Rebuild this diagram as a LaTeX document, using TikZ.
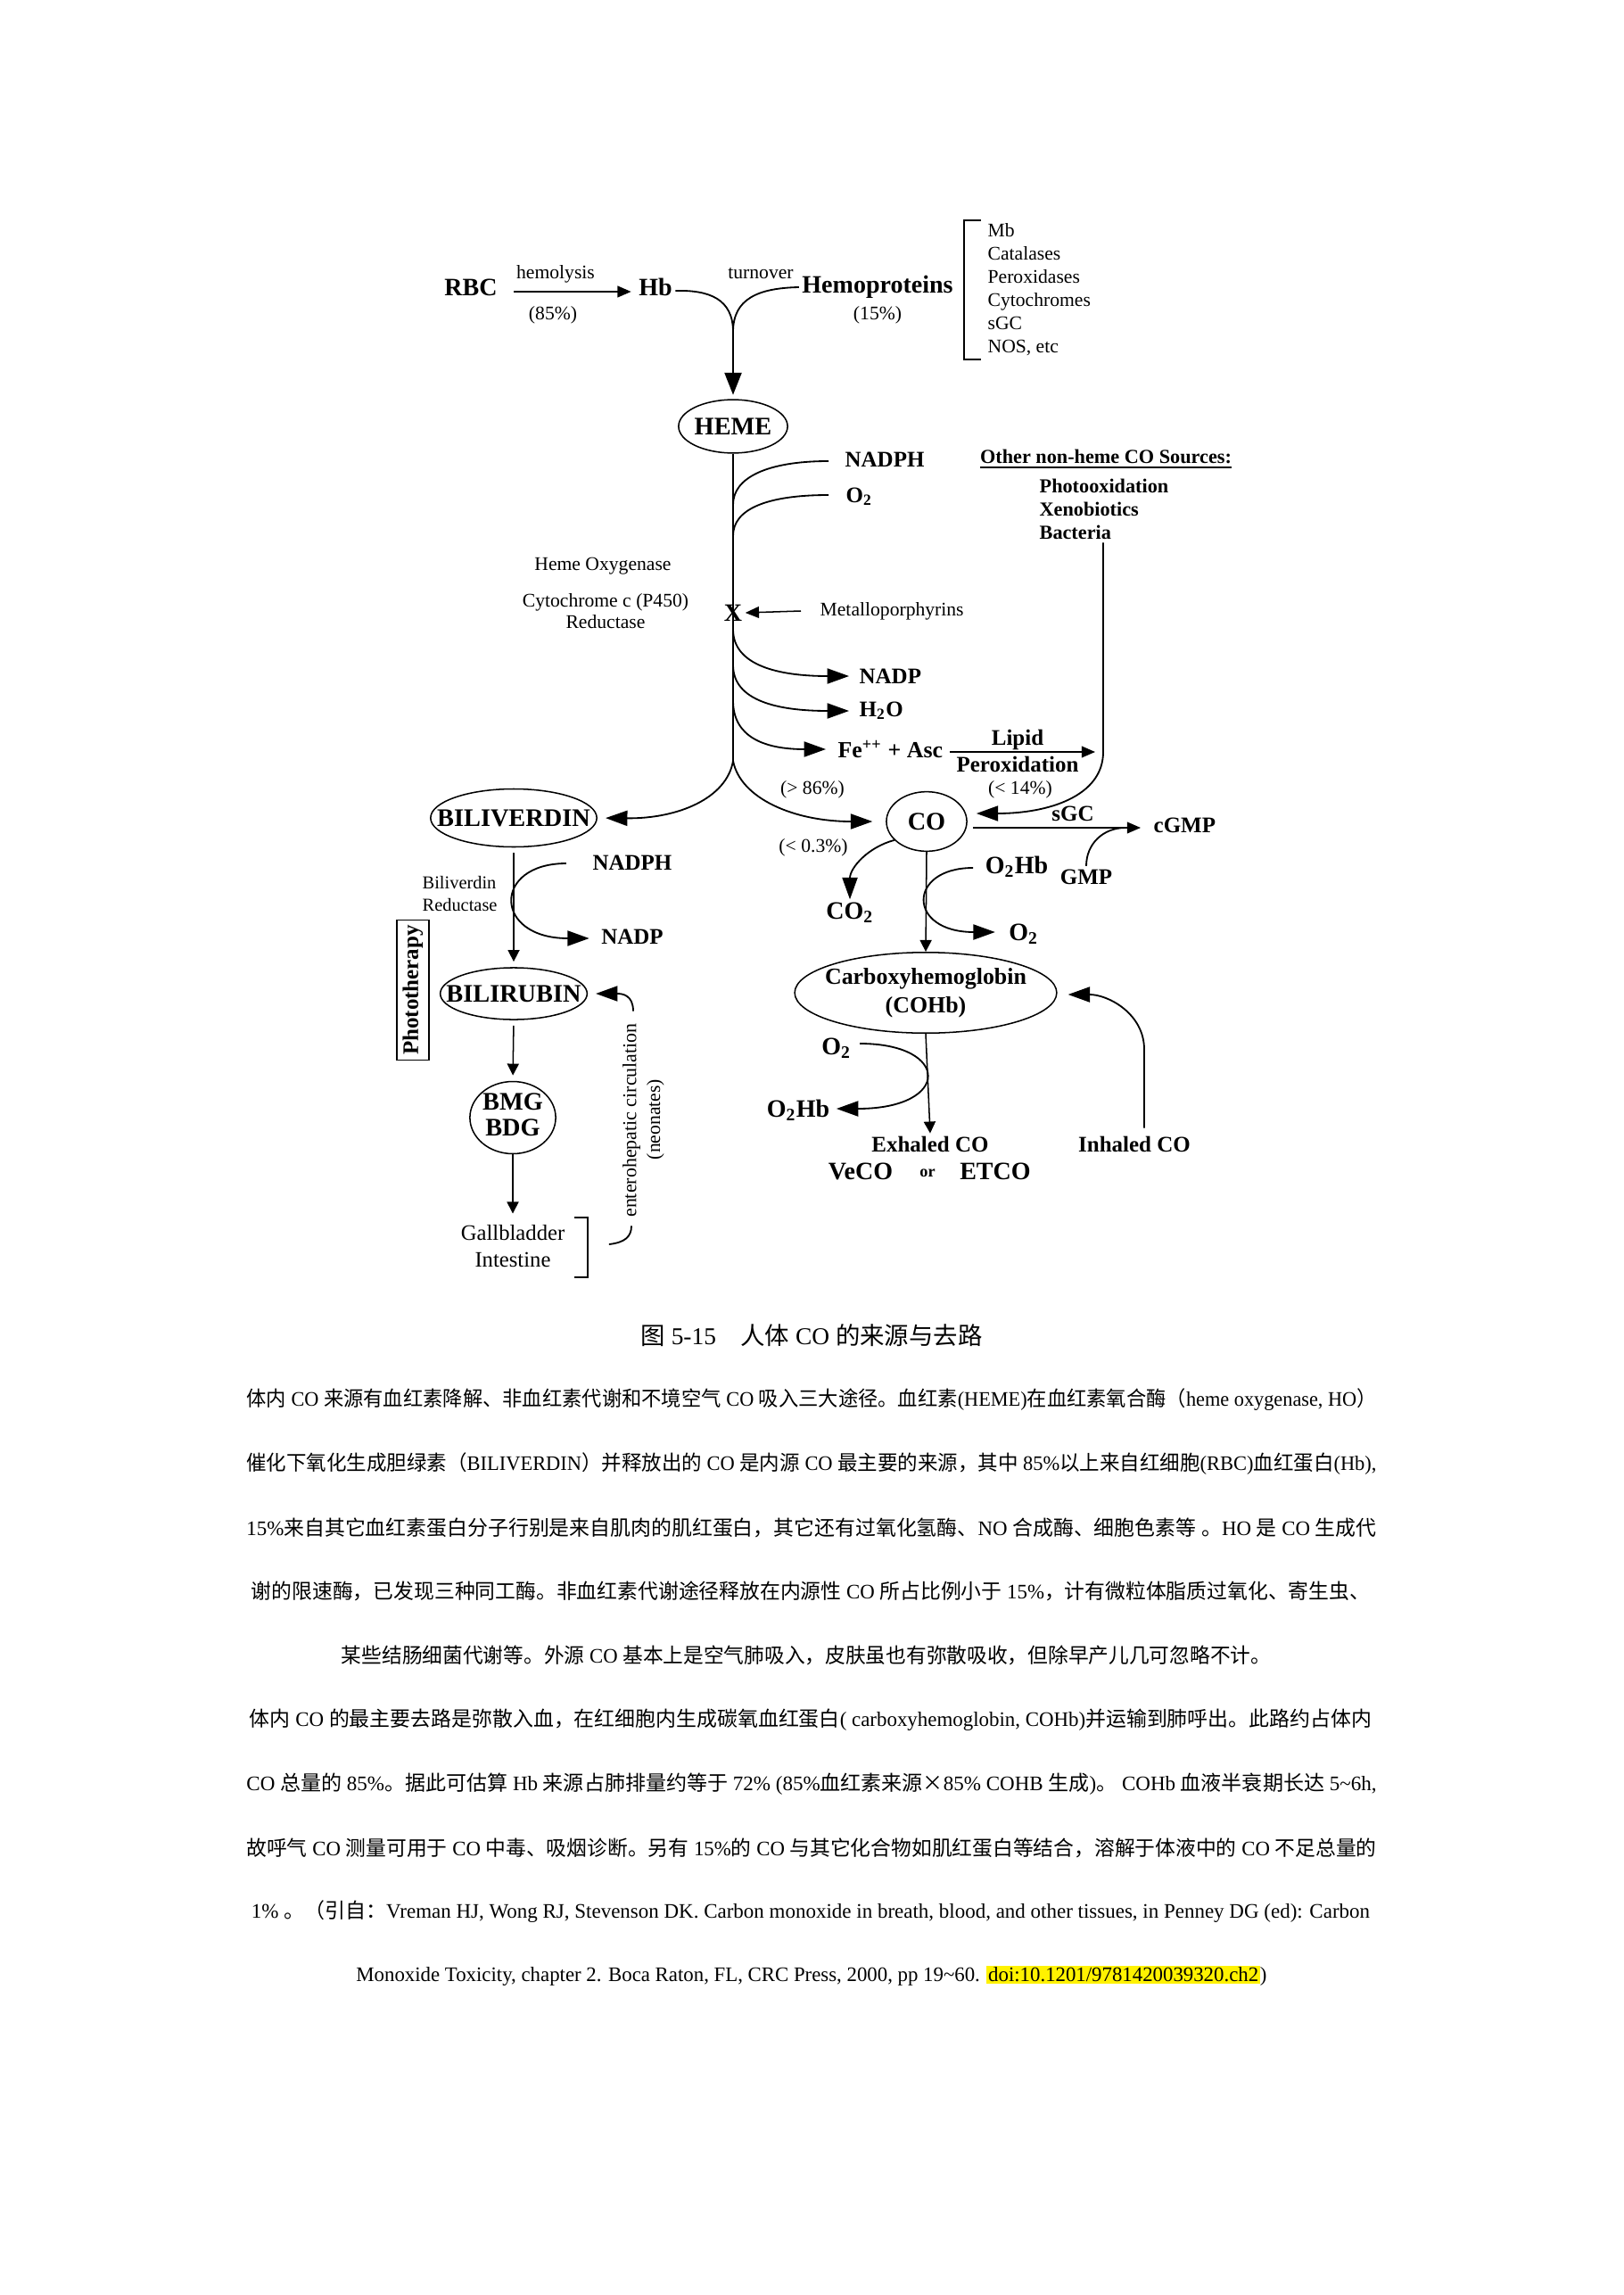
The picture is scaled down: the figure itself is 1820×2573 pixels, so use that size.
\documentclass[tikz,border=0pt]{standalone}
\usepackage{fontspec}
\usepackage{graphicx}
\setmainfont{Liberation Serif}
\newfontfamily\zhfont{Noto Sans CJK SC}
\usetikzlibrary{shapes.geometric, arrows.meta, positioning, calc}

% Latin run inside Chinese text
\newcommand\en[1]{{\rmfamily#1}}
% squeeze or stretch one printed line to a width given in px
\newlength\fitwd
\newcommand\fitline[2]{\settowidth\fitwd{#2}\pgfmathsetmacro\fitratio{#1*0.32834/\fitwd}\scalebox{\fitratio}[1]{#2}}

\begin{document}
\begin{tikzpicture}[
    x=0.11538mm, y=-0.11538mm,
    smalltxt/.style={font=\fontsize{7.1}{8.5}\selectfont, inner sep=1pt, align=center},
    midtxt/.style={font=\fontsize{8.2}{9.5}\selectfont\bfseries, inner sep=1pt, align=center},
    bigtxt/.style={font=\fontsize{9.2}{10.5}\selectfont\bfseries, inner sep=1pt, align=center},
    oval/.style={ellipse, draw, line width=0.5pt, inner sep=0pt, font=\fontsize{9.3}{9.4}\selectfont\bfseries},
    link/.style={line width=0.6pt},
    toparrow/.style={line width=0.9pt, -{Triangle[length=8.2pt,width=6.2pt]}},
    bigarrow/.style={line width=0.6pt, -{Triangle[length=8pt,width=5.6pt]}},
    medarrow/.style={line width=0.5pt, -{Triangle[length=5pt,width=4.2pt]}},
    smallarrow/.style={line width=0.5pt, -{Triangle[length=4.3pt,width=4.3pt]}},
    zh/.style={font=\zhfont\fontsize{7.6}{9}\selectfont, inner sep=0pt}
]
    \fill[white] (0,0) rectangle (1820,2573);
    \useasboundingbox (0,0) rectangle (1820,2573);

    % sources of heme
    \node[bigtxt] (rbc) at (528,322) {RBC};
    \node[smalltxt] (hemolysis) at (623,307) {hemolysis};
    \node[smalltxt] (pct85) at (620,353) {(85\%)};
    \node[bigtxt] (hb) at (735,322) {Hb};
    \node[smalltxt] (turnover) at (853,307) {turnover};
    \node[bigtxt] (hemoprot) at (984,322) {Hemoproteins};
    \node[smalltxt] (pct15) at (984,353) {(15\%)};
    \node[smalltxt, anchor=west, align=left, font=\fontsize{7.1}{8.54}\selectfont] (list) at (1104,325)
        {Mb\\Catalases\\Peroxidases\\Cytochromes\\sGC\\NOS, etc};
    \draw[line width=0.5pt] ($(list.north west)+(-4,0)$) -| ($(list.south west)+(-23,0)$) -- ($(list.south west)+(-4,0)$);

    \draw[medarrow] ($(rbc.east)+(15,5)$) -- ($(hb.west)+(-5,5)$);
    \coordinate (merge) at (822,372);
    \draw[link] ($(hb.east)+(0,4)$) .. controls (795,325) and (822,335) .. (merge);
    \draw[link] (hemoprot.west) .. controls (850,323) and (822,335) .. (merge);

    \node[oval, minimum width=14.1mm, minimum height=6.9mm] (heme) at (822,478) {\makebox[0pt]{HEME}};
    \draw[toparrow, shorten >=1.5pt] (merge) -- (heme.north);

    % heme oxygenase reaction
    \node[midtxt, anchor=west] (nadph1) at (944,515) {NADPH};
    \node[midtxt, anchor=west] (o2a) at (945,557) {O\textsubscript{2}};
    \node[font=\fontsize{7.3}{8.5}\selectfont\bfseries, inner sep=1pt] (others) at (1240,515) {\underline{Other non-heme CO Sources:}};
    \node[anchor=west, align=left, inner sep=1pt, font=\fontsize{7.3}{8.54}\selectfont\bfseries] (sources) at (1162,571)
        {Photooxidation\\Xenobiotics\\Bacteria};
    \node[smalltxt] (hoenz) at (676,635) {Heme Oxygenase};
    \node[smalltxt, font=\fontsize{7.1}{7.9}\selectfont] (cytred) at (679,685) {Cytochrome c (P450)\\Reductase};
    \node[bigtxt] (xmark) at (822,687) {X};
    \node[smalltxt, anchor=west] (metallo) at (916,685) {Metalloporphyrins};
    \node[midtxt, anchor=west] (nadp1) at (960,758) {NADP};
    \node[midtxt, anchor=west] (h2o) at (960,797) {H\textsubscript{2}O};
    \node[font=\fontsize{8.5}{9.5}\selectfont\bfseries, inner sep=1pt, anchor=west] (feasc) at (936,840) {Fe\textsuperscript{++} + Asc};
    \node[midtxt] (lipid) at (1141,829) {Lipid};
    \node[midtxt] (perox) at (1141,857) {Peroxidation};

    \coordinate (split) at (822,853);
    \coordinate (bend) at (1237,843);
    \draw[line width=0.7pt] (heme.south) -- (split);
    \draw[link] ($(nadph1.west)+(-15,2)$) .. controls +(-69,0) and +(0,-30) .. ($(heme.south)+(0,57)$);
    \draw[link] ($(o2a.west)+(-16,-2)$) .. controls +(-69,0) and +(0,-30) .. ($(heme.south)+(0,92)$);
    \draw[medarrow] ($(metallo.west)+(-18,0)$) -- (xmark.east);
    \draw[bigarrow] ($(heme.south)+(0,197)$) .. controls +(0,40) and +(-80,0) .. ($(nadp1.west)+(-8,0)$);
    \draw[bigarrow] ($(heme.south)+(0,237)$) .. controls +(0,40) and +(-80,0) .. ($(h2o.west)+(-8,0)$);
    \draw[bigarrow] ($(heme.south)+(0,277)$) .. controls +(0,40) and +(-70,0) .. ($(feasc.west)+(-10,0)$);
    \draw[medarrow] ($(feasc.east)+(4,3)$) -- ($(bend)+(-9,0)$);

    % CO and its fate
    \node[smalltxt] (pct86) at (911,885) {(> 86\%)};
    \node[smalltxt] (pct14) at (1144,885) {(< 14\%)};
    \node[oval, minimum width=21.5mm, minimum height=7.5mm] (biliv) at (576,917) {\makebox[0pt]{BILIVERDIN}};
    \node[oval, minimum width=10.4mm, minimum height=7.7mm] (co) at (1039,921) {\makebox[0pt]{CO}};
    \node[midtxt] (sgc) at (1203,912) {sGC};
    \node[midtxt, anchor=west] (cgmp) at (1290,925) {cGMP};
    \node[midtxt] (gmp) at (1218,983) {GMP};
    \node[smalltxt] (pct03) at (912,950) {(< 0.3\%)};
    \node[bigtxt] (co2) at (953,1023) {CO\textsubscript{2}};
    \node[bigtxt] (o2hb1) at (1140,972) {O\textsubscript{2}Hb};
    \node[bigtxt] (o2b) at (1148,1047) {O\textsubscript{2}};
    \node[oval, minimum width=33.9mm, minimum height=10.0mm, font=\fontsize{8.5}{10.5}\selectfont\bfseries] (cohb) at (1038,1113)
        {\makebox[0pt]{\begin{tabular}{@{}c@{}}Carboxyhemoglobin\\(COHb)\end{tabular}}};

    \draw[bigarrow, shorten >=3pt] (split) .. controls (815,895) and (760,918) .. (biliv.east);
    \draw[bigarrow, shorten >=4.9pt] (split) .. controls (830,895) and (890,921) .. (co.west);
    \draw[bigarrow] (sources.south -| bend) -- (bend) .. controls +(0,50) and +(80,0) .. ($(co.east)+(10,-9)$);
    \draw[medarrow] ($(co.east)+(6,7)$) -- ($(cgmp.west)+(-11,3)$);
    \draw[link] (gmp.north) .. controls +(0,-25) and +(-25,0) .. ($(cgmp.west)+(-28,3)$);
    \draw[bigarrow] (co.210) .. controls +(-30,8) and +(0,-35) .. (co2.north);
    \draw[smallarrow] (co.south) -- (cohb.north);
    \draw[bigarrow] ($(o2hb1.west)+(-10,1)$) .. controls +(-74,0) and +(-99,0) .. ($(o2b.west)+(-12,-2)$);

    % bilirubin branch
    \node[midtxt] (nadph2) at (709,967) {NADPH};
    \node[smalltxt, anchor=west, align=left, font=\fontsize{6.7}{8.2}\selectfont] (bilired) at (470,1002) {Biliverdin\\Reductase};
    \node[midtxt] (nadp2) at (709,1050) {NADP};
    \node[oval, minimum width=19.0mm, minimum height=6.7mm] (bilir) at (576,1114) {\makebox[0pt]{BILIRUBIN}};
    \node[draw, rotate=90, line width=0.5pt, minimum width=18.1mm, minimum height=4.2mm, inner sep=0pt,
        font=\fontsize{8.2}{9}\selectfont\bfseries] (photo) at (463,1110) {Phototherapy};
    \node[oval, minimum width=11.1mm, minimum height=8.1mm] (bmg) at (575,1253)
        {\makebox[0pt]{\begin{tabular}{@{}c@{}}BMG\\BDG\end{tabular}}};
    \node[font=\fontsize{8.1}{9.85}\selectfont, inner sep=1pt, align=center] (gall) at (575,1397) {Gallbladder\\Intestine};
    \node[smalltxt, rotate=90, font=\fontsize{7.2}{8}\selectfont] (entero) at (708,1256) {enterohepatic circulation};
    \node[smalltxt, rotate=90] (neon) at (735,1255) {(neonates)};

    \draw[smallarrow, shorten <=2pt, shorten >=2pt] (biliv.south) -- (bilir.north);
    \draw[bigarrow] ($(nadph2.west)+(-26,1)$) .. controls +(-83,0) and +(-108,0) .. ($(nadp2.west)+(-10,2)$);
    \draw[smallarrow, shorten <=2pt, shorten >=2pt] (bilir.south) -- (bmg.north);
    \draw[smallarrow, shorten >=3pt] (bmg.south) -- (gall.north);
    \draw[line width=0.5pt] ($(gall.east)+(7,-32)$) -- ++(15,0) -- ++(0,67) -- ++(-15,0);
    \draw[link] ($(gall.east)+(46,-2)$) .. controls +(18,-2) and +(0,12) .. ($(entero.west)+(0,6)$);
    \draw[bigarrow] ($(entero.east)+(2,-10)$) .. controls +(0,-18) and +(30,0) .. ($(bilir.east)+(9,0)$);

    % carboxyhemoglobin and exhaled CO
    \node[bigtxt] (o2c) at (938,1175) {O\textsubscript{2}};
    \node[bigtxt] (o2hb2) at (895,1245) {O\textsubscript{2}Hb};
    \node[midtxt] (exh) at (1043,1283) {Exhaled CO};
    \node[bigtxt] (veco) at (965,1313) {VeCO};
    \node[font=\fontsize{6}{7}\selectfont\bfseries, inner sep=1pt] (orword) at (1040,1315) {or};
    \node[bigtxt] (etco) at (1116,1313) {ETCO};
    \node[midtxt] (inh) at (1272,1283) {Inhaled CO};

    \draw[bigarrow] ($(o2c.east)+(6,-5)$) .. controls +(102,0) and +(129,0) .. ($(o2hb2.east)+(4,-2)$);
    \draw[smallarrow] (cohb.south) -- (exh.north);
    \draw[bigarrow] ($(inh.north)+(11,-6)$) -- ++(0,-88) .. controls +(0,-40) and +(45,0) .. ($(cohb.east)+(12,2)$);

    % caption and text
    \node[font=\zhfont\fontsize{8.9}{10}\selectfont, inner sep=0pt] (caption) at (910,1497)
        {\fitline{383}{图\en{ 5-15}　人体\en{ CO }的来源与去路}};
    \node[zh] (p1) at (910,1569) {\fitline{1267}{体内\en{ CO }来源有血红素降解、非血红素代谢和不境空气\en{ CO }吸入三大途径。血红素\en{(HEME)}在血红素氧合酶（\en{heme oxygenase, HO}）}};
    \node[zh] (p2) at (910,1641) {\fitline{1267}{催化下氧化生成胆绿素（\en{BILIVERDIN}）并释放出的\en{ CO }是内源\en{ CO }最主要的来源，其中\en{ 85\%}以上来自红细胞\en{(RBC)}血红蛋白\en{(Hb),}}};
    \node[zh] (p3) at (910,1713) {\fitline{1267}{\en{15\%}来自其它血红素蛋白分子行别是来自肌肉的肌红蛋白，其它还有过氧化氢酶、\en{NO }合成酶、细胞色素等\en{ }。\en{HO }是\en{ CO }生成代}};
    \node[zh] (p4) at (909,1784) {\fitline{1254}{谢的限速酶，已发现三种同工酶。非血红素代谢途径释放在内源性\en{ CO }所占比例小于\en{ 15\%}，计有微粒体脂质过氧化、寄生虫、}};
    \node[zh] (p5) at (904,1856) {\fitline{1042}{某些结肠细菌代谢等。外源\en{ CO }基本上是空气肺吸入，皮肤虽也有弥散吸收，但除早产儿几可忽略不计。}};
    \node[zh] (p6) at (909,1928) {\fitline{1258}{体内\en{ CO }的最主要去路是弥散入血，在红细胞内生成碳氧血红蛋白\en{( carboxyhemoglobin, COHb)}并运输到肺呼出。此路约占体内}};
    \node[zh] (p7) at (910,2000) {\fitline{1267}{\en{CO }总量的\en{ 85\%}。据此可估算\en{ Hb }来源占肺排量约等于\en{ 72\% (85\%}血红素来源×\en{85\% COHB }生成\en{)}。\en{ COHb }血液半衰期长达\en{ 5\textasciitilde6h,}}};
    \node[zh] (p8) at (910,2072) {\fitline{1267}{故呼气\en{ CO }测量可用于\en{ CO }中毒、吸烟诊断。另有\en{ 15\%}的\en{ CO }与其它化合物如肌红蛋白等结合，溶解于体液中的\en{ CO }不足总量的}};
    \node[zh] (p9) at (909,2143) {\fitline{1254}{\en{1\% }。（引自：\en{Vreman HJ, Wong RJ, Stevenson DK. Carbon monoxide in breath, blood, and other tissues, in Penney DG (ed): Carbon}}};
    \node[zh] (p10) at (910,2215) {\fitline{1021}{\en{Monoxide Toxicity, chapter 2. Boca Raton, FL, CRC Press, 2000, pp 19\textasciitilde60. \setlength{\fboxsep}{0.6pt}\colorbox{yellow}{doi:10.1201/9781420039320.ch2})}}};
\end{tikzpicture}
\end{document}
